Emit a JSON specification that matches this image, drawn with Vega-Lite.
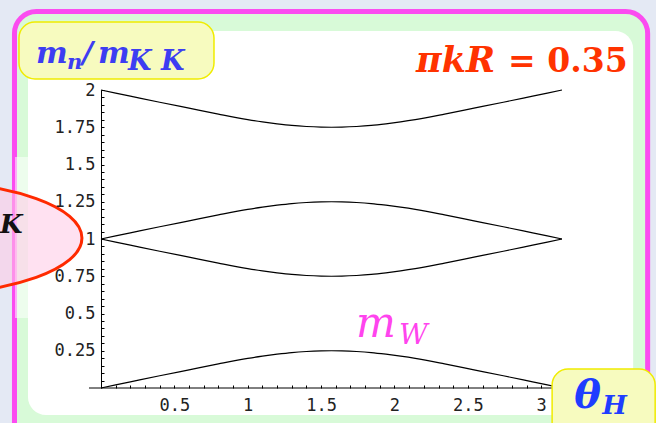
{
  "$schema": "https://vega.github.io/schema/vega-lite/v6.json",
  "width": 461,
  "height": 298,
  "autosize": "none",
  "padding": {"left": 101, "top": 90, "right": 94, "bottom": 35},
  "config": {
    "background": "#e4e9f4",
    "view": {"stroke": null},
    "axis": {"grid": false, "title": null, "labelFont": "DejaVu Sans Mono", "labelFontSize": 17, "labelColor": "#222222", "tickColor": "#000000", "domainColor": "#000000", "labelOverlap": false, "labelFlush": false}
  },
  "encoding": {
    "x": {
      "field": "x", "type": "quantitative",
      "scale": {"domain": [0, 3.1416], "nice": false, "zero": false},
      "axis": {
        "zindex": 1,
        "domain": false,
        "values": [0.1,0.2,0.3,0.4,0.5,0.6,0.7,0.8,0.9,1,1.1,1.2,1.3,1.4,1.5,1.6,1.7,1.8,1.9,2,2.1,2.2,2.3,2.4,2.5,2.6,2.7,2.8,2.9,3],
        "labelExpr": "indexof([0.5,1,1.5,2,2.5,3], datum.value) >= 0 ? '' + datum.value : ''",
        "tickSize": -3,
        "labelFontSize": 17,
        "labelPadding": 20,
        "labelBaseline": "middle"
      }
    },
    "y": {
      "field": "y", "type": "quantitative",
      "scale": {"domain": [0, 2], "nice": false, "zero": false},
      "axis": {
        "zindex": 1,
        "domain": true,
        "values": [0.05,0.1,0.15,0.2,0.25,0.3,0.35,0.4,0.45,0.5,0.55,0.6,0.65,0.7,0.75,0.8,0.85,0.9,0.95,1,1.05,1.1,1.15,1.2,1.25,1.3,1.35,1.4,1.45,1.5,1.55,1.6,1.65,1.7,1.75,1.8,1.85,1.9,1.95,2],
        "labelExpr": "indexof([0.25,0.5,0.75,1,1.25,1.5,1.75,2], datum.value) >= 0 ? '' + datum.value : ''",
        "tickSize": -3,
        "labelFontSize": 17,
        "labelPadding": 9
      }
    }
  },
  "layer": [
    {
      "data": {"values": [{"x": -0.5896, "x2": 3.7253, "y": 2.5268, "y2": -0.3826}]},
      "mark": {"type": "rect", "fill": "#d8fad8", "stroke": "#fb4cf0", "strokeWidth": 5, "cornerRadius": 22},
      "encoding": {"x2": {"field": "x2"}, "y2": {"field": "y2"}}
    },
    {
      "data": {"values": [{"x": -0.4976, "x2": 3.6265, "y": 2.396, "y2": -0.1812}]},
      "mark": {"type": "rect", "fill": "#ffffff", "cornerRadius": 18},
      "encoding": {"x2": {"field": "x2"}, "y2": {"field": "y2"}}
    },
    {
      "data": {"values": [{"x": -0.586, "x2": 0, "y": 1.55, "y2": 0.47}]},
      "mark": {"type": "rect", "fill": "#ffffff", "opacity": 0.55},
      "encoding": {"x2": {"field": "x2"}, "y2": {"field": "y2"}}
    },
    {
      "data": {"values": [{"x": -1.193, "y": 1.0067}]},
      "mark": {"type": "point", "filled": true, "shape": "M1,0C1,0.197 0.552,0.357 0,0.357C-0.552,0.357 -1,0.197 -1,0C-1,-0.197 -0.552,-0.357 0,-0.357C0.552,-0.357 1,-0.197 1,0Z", "size": 97344, "fill": "#ffc9e6", "fillOpacity": 0.55, "stroke": "#ff2a00", "strokeWidth": 3, "strokeOpacity": 1, "opacity": 1}
    },
    {
      "data": {"values": [{"x": -0.6885, "y": 1.0403, "t": "K"}]},
      "mark": {"type": "text", "align": "left", "baseline": "alphabetic", "font": "DejaVu Serif", "fontWeight": "bold", "fontStyle": "italic", "fontSize": 26, "fill": "#111111"},
      "encoding": {"text": {"field": "t"}}
    },
    {
      "data": {"values": [{"x": -0.559, "x2": 0.77, "y": 2.456, "y2": 2.074}]},
      "mark": {"type": "rect", "fill": "#f7fbbf", "stroke": "#f0ec00", "strokeWidth": 1.5, "cornerRadius": 16},
      "encoding": {"x2": {"field": "x2"}, "y2": {"field": "y2"}}
    },
    {
      "data": {"values": [
        {"c":"a","x":0,"y":0},{"c":"a","x":0.2,"y":0.041},{"c":"a","x":0.4,"y":0.082},{"c":"a","x":0.6,"y":0.122},{"c":"a","x":0.8,"y":0.162},{"c":"a","x":1.0,"y":0.199},{"c":"a","x":1.1,"y":0.214},{"c":"a","x":1.2,"y":0.227},{"c":"a","x":1.3,"y":0.238},{"c":"a","x":1.4,"y":0.245},{"c":"a","x":1.5,"y":0.249},{"c":"a","x":1.5708,"y":0.25},{"c":"a","x":1.6416,"y":0.249},{"c":"a","x":1.7416,"y":0.245},{"c":"a","x":1.8416,"y":0.238},{"c":"a","x":1.9416,"y":0.227},{"c":"a","x":2.0416,"y":0.214},{"c":"a","x":2.1416,"y":0.199},{"c":"a","x":2.3416,"y":0.162},{"c":"a","x":2.5416,"y":0.122},{"c":"a","x":2.7416,"y":0.082},{"c":"a","x":2.9416,"y":0.041},{"c":"a","x":3.1416,"y":0},
        {"c":"b","x":0,"y":1},{"c":"b","x":0.2,"y":0.959},{"c":"b","x":0.4,"y":0.918},{"c":"b","x":0.6,"y":0.878},{"c":"b","x":0.8,"y":0.838},{"c":"b","x":1.0,"y":0.801},{"c":"b","x":1.1,"y":0.786},{"c":"b","x":1.2,"y":0.773},{"c":"b","x":1.3,"y":0.762},{"c":"b","x":1.4,"y":0.755},{"c":"b","x":1.5,"y":0.751},{"c":"b","x":1.5708,"y":0.75},{"c":"b","x":1.6416,"y":0.751},{"c":"b","x":1.7416,"y":0.755},{"c":"b","x":1.8416,"y":0.762},{"c":"b","x":1.9416,"y":0.773},{"c":"b","x":2.0416,"y":0.786},{"c":"b","x":2.1416,"y":0.801},{"c":"b","x":2.3416,"y":0.838},{"c":"b","x":2.5416,"y":0.878},{"c":"b","x":2.7416,"y":0.918},{"c":"b","x":2.9416,"y":0.959},{"c":"b","x":3.1416,"y":1},
        {"c":"c","x":0,"y":1},{"c":"c","x":0.2,"y":1.041},{"c":"c","x":0.4,"y":1.082},{"c":"c","x":0.6,"y":1.122},{"c":"c","x":0.8,"y":1.162},{"c":"c","x":1.0,"y":1.199},{"c":"c","x":1.1,"y":1.214},{"c":"c","x":1.2,"y":1.227},{"c":"c","x":1.3,"y":1.238},{"c":"c","x":1.4,"y":1.245},{"c":"c","x":1.5,"y":1.249},{"c":"c","x":1.5708,"y":1.25},{"c":"c","x":1.6416,"y":1.249},{"c":"c","x":1.7416,"y":1.245},{"c":"c","x":1.8416,"y":1.238},{"c":"c","x":1.9416,"y":1.227},{"c":"c","x":2.0416,"y":1.214},{"c":"c","x":2.1416,"y":1.199},{"c":"c","x":2.3416,"y":1.162},{"c":"c","x":2.5416,"y":1.122},{"c":"c","x":2.7416,"y":1.082},{"c":"c","x":2.9416,"y":1.041},{"c":"c","x":3.1416,"y":1},
        {"c":"d","x":0,"y":2},{"c":"d","x":0.2,"y":1.959},{"c":"d","x":0.4,"y":1.918},{"c":"d","x":0.6,"y":1.878},{"c":"d","x":0.8,"y":1.838},{"c":"d","x":1.0,"y":1.801},{"c":"d","x":1.1,"y":1.786},{"c":"d","x":1.2,"y":1.773},{"c":"d","x":1.3,"y":1.762},{"c":"d","x":1.4,"y":1.755},{"c":"d","x":1.5,"y":1.751},{"c":"d","x":1.5708,"y":1.75},{"c":"d","x":1.6416,"y":1.751},{"c":"d","x":1.7416,"y":1.755},{"c":"d","x":1.8416,"y":1.762},{"c":"d","x":1.9416,"y":1.773},{"c":"d","x":2.0416,"y":1.786},{"c":"d","x":2.1416,"y":1.801},{"c":"d","x":2.3416,"y":1.838},{"c":"d","x":2.5416,"y":1.878},{"c":"d","x":2.7416,"y":1.918},{"c":"d","x":2.9416,"y":1.959},{"c":"d","x":3.1416,"y":2}
      ]},
      "mark": {"type": "line", "color": "#000000", "strokeWidth": 1.2, "interpolate": "monotone"},
      "encoding": {"detail": {"field": "c"}}
    },
    {
      "data": {"values": [{"x": -0.0818, "x2": 3.075, "y": 0}]},
      "mark": {"type": "rule", "color": "#000000", "strokeWidth": 1},
      "encoding": {"x2": {"field": "x2"}}
    },
    {
      "data": {"values": [{"x": 3.0743, "x2": 3.7764, "y": 0.1275, "y2": -0.349}]},
      "mark": {"type": "rect", "fill": "#f7fbbf", "stroke": "#f0ec00", "strokeWidth": 1.5, "cornerRadius": 16},
      "encoding": {"x2": {"field": "x2"}, "y2": {"field": "y2"}}
    },
    {
      "data": {"values": [{"x": -0.4431, "y": 2.1812, "t": "m"}, {"x": -0.1295, "y": 2.1812, "t": "/"}, {"x": -0.0205, "y": 2.1812, "t": "m"}]},
      "mark": {"type": "text", "align": "left", "baseline": "alphabetic", "font": "DejaVu Serif", "fontWeight": "bold", "fontStyle": "italic", "fontSize": 30, "fill": "#3d3df2"},
      "encoding": {"text": {"field": "t"}}
    },
    {
      "data": {"values": [{"x": -0.2318, "y": 2.1409, "t": "n"}]},
      "mark": {"type": "text", "align": "left", "baseline": "alphabetic", "font": "DejaVu Serif", "fontWeight": "bold", "fontStyle": "italic", "fontSize": 21, "fill": "#3d3df2"},
      "encoding": {"text": {"field": "t"}}
    },
    {
      "data": {"values": [{"x": 0.1841, "y": 2.1342, "t": "K"}, {"x": 0.4089, "y": 2.1342, "t": "K"}]},
      "mark": {"type": "text", "align": "left", "baseline": "alphabetic", "font": "DejaVu Serif", "fontWeight": "bold", "fontStyle": "italic", "fontSize": 27, "fill": "#3d3df2"},
      "encoding": {"text": {"field": "t"}}
    },
    {
      "data": {"values": [{"x": 2.1472, "y": 2.1208, "t": "πkR"}]},
      "mark": {"type": "text", "align": "left", "baseline": "alphabetic", "font": "DejaVu Serif", "fontWeight": "bold", "fontStyle": "italic", "fontSize": 35, "fill": "#ff3300"},
      "encoding": {"text": {"field": "t"}}
    },
    {
      "data": {"values": [{"x": 2.7744, "y": 2.1208, "t": "= 0.35"}]},
      "mark": {"type": "text", "align": "left", "baseline": "alphabetic", "font": "DejaVu Serif", "fontWeight": "bold", "fontSize": 33, "fill": "#ff3300"},
      "encoding": {"text": {"field": "t"}}
    },
    {
      "data": {"values": [{"x": 1.7382, "y": 0.3423, "t": "m"}]},
      "mark": {"type": "text", "align": "left", "baseline": "alphabetic", "font": "DejaVu Serif", "fontStyle": "italic", "fontSize": 42, "fill": "#ff44ee"},
      "encoding": {"text": {"field": "t"}}
    },
    {
      "data": {"values": [{"x": 2.0313, "y": 0.2953, "t": "W"}]},
      "mark": {"type": "text", "align": "left", "baseline": "alphabetic", "font": "DejaVu Serif", "fontStyle": "italic", "fontSize": 28, "fill": "#ff44ee"},
      "encoding": {"text": {"field": "t"}}
    },
    {
      "data": {"values": [{"x": 3.2243, "y": -0.1342, "t": "θ"}]},
      "mark": {"type": "text", "align": "left", "baseline": "alphabetic", "font": "DejaVu Serif", "fontWeight": "bold", "fontStyle": "italic", "fontSize": 40, "fill": "#1f3dff"},
      "encoding": {"text": {"field": "t"}}
    },
    {
      "data": {"values": [{"x": 3.4152, "y": -0.1745, "t": "H"}]},
      "mark": {"type": "text", "align": "left", "baseline": "alphabetic", "font": "DejaVu Serif", "fontWeight": "bold", "fontStyle": "italic", "fontSize": 26, "fill": "#1f3dff"},
      "encoding": {"text": {"field": "t"}}
    }
  ]
}
